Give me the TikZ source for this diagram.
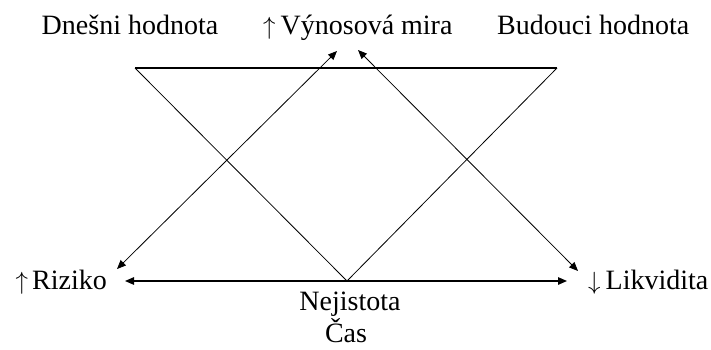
\documentclass[tikz,border=0pt]{standalone}
\usepackage{fontspec}
\setmainfont{Liberation Serif}
\usetikzlibrary{arrows.meta}

\tikzset{
  lbl/.style={inner sep=0pt, font=\fontsize{28pt}{30pt}\selectfont},
  thin line/.style={line width=0.8pt},
  bar line/.style={line width=1.3pt},
  both tips/.style={{Triangle[length=9pt,width=7.5pt]}-{Triangle[length=9pt,width=7.5pt]}}
}

\begin{document}
\begin{tikzpicture}[x=1pt,y=-1pt]
  \useasboundingbox (0,0) rectangle (711,350);

  % labels
  \node[lbl, anchor=base]      (dnes)  at (130,35)  {Dnešni hodnota};
  \node[lbl, anchor=base west] (vyn)   at (263,35)  {$\uparrow$\kern5pt Výnosová mira};
  \node[lbl, anchor=base west] (bud)   at (497,35)  {Budouci hodnota};
  \node[lbl, anchor=base east] (riz)   at (107,289) {$\uparrow$\kern4pt Riziko};
  \node[lbl, anchor=base west] (likv)  at (588,289) {$\downarrow$\kern5pt Likvidita};
  \node[lbl, anchor=base]      (nej)   at (350,310) {Nejistota};
  \node[lbl, anchor=base]      (cas)   at (346,342.5) {Čas};

  % corner points of the frame
  \coordinate (tl) at (135,68);
  \coordinate (tr) at (557,68);
  \coordinate (v)  at (347,281);
  \coordinate (bl) at (125,281);
  \coordinate (br) at (567,281);

  % ends of the diagonal arrows
  \coordinate (rizTip)  at (117,269);
  \coordinate (vynL)    at (337,51);
  \coordinate (vynR)    at (358,50);
  \coordinate (likvTip) at (578,271);

  % frame
  \draw[bar line] (tl) -- (tr);
  \draw[thin line] (tl) -- (v) -- (tr);

  % arrows
  \draw[bar line, both tips] (bl) -- (br);
  \draw[thin line, both tips] (rizTip) -- (vynL);
  \draw[thin line, both tips] (vynR) -- (likvTip);
\end{tikzpicture}
\end{document}
